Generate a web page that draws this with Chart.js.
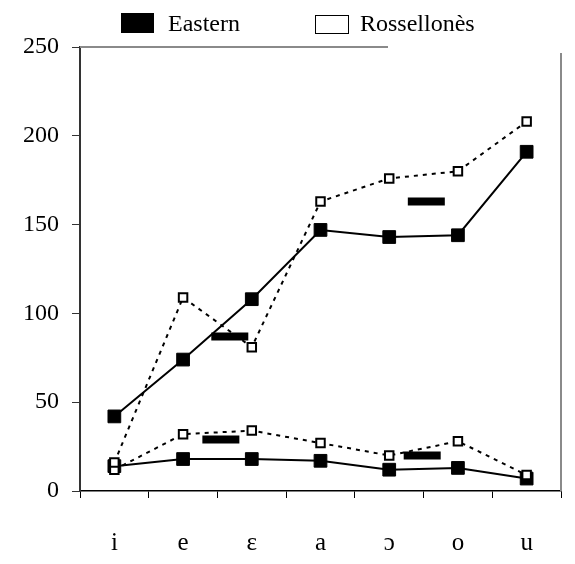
<!DOCTYPE html>
<html>
<head>
<meta charset="utf-8">
<script src="https://cdn.jsdelivr.net/npm/chart.js@4"></script>
<style>
  body { margin: 0; background: #fff; }
  #wrap { position: relative; width: 575px; height: 564px; }
  .lg { position: absolute; font-family: "Liberation Serif", serif; font-size: 24px; color: #000; line-height: 1; }
  .box { position: absolute; box-sizing: border-box; }
</style>
</head>
<body>
<div id="wrap">
  <canvas id="vowelChart" width="575" height="564"></canvas>
  <div class="box" style="left:121px;top:13px;width:33px;height:20px;background:#000;"></div>
  <div class="lg" style="left:168px;top:11px;">Eastern</div>
  <div class="box" style="left:315px;top:15px;width:34px;height:19px;border:1.5px solid #000;background:#fff;"></div>
  <div class="lg" style="left:360px;top:11px;">Rossellonès</div>
</div>
<script>
// vowel categories
const vowels = ['i', 'e', 'ɛ', 'a', 'ɔ', 'o', 'u'];
const yTicks = [0, 50, 100, 150, 200, 250];

// values
const easternUpper = [42, 74, 108, 147, 143, 144, 191];
const easternLower = [14, 18, 18, 17, 12, 13, 7];
const rossUpper = [16, 109, 81, 163, 176, 180, 208];
const rossLower = [12, 32, 34, 27, 20, 28, 9];

// black bars between categories (x as fractional category index)
const barX = [1.68, 1.55, 4.54, 4.48];
const barY = [87, 29, 163, 20];

function initializeChart() {
    const ctx = document.getElementById('vowelChart').getContext('2d');

    const solid = (data) => ({
        data: data,
        borderColor: '#000',
        borderWidth: 2,
        pointStyle: 'rect',
        pointRadius: 9,
        pointBackgroundColor: '#000',
        pointBorderColor: '#000',
        pointBorderWidth: 1,
        tension: 0
    });
    const dashed = (data) => ({
        data: data,
        borderColor: '#000',
        borderWidth: 2,
        borderDash: [4, 5],
        pointStyle: 'rect',
        pointRadius: 6,
        pointBackgroundColor: '#fff',
        pointBorderColor: '#000',
        pointBorderWidth: 2,
        tension: 0
    });

    // grey frame on top and right
    const framePlugin = {
        id: 'frame',
        afterDraw(chart) {
            const a = chart.chartArea;
            const c = chart.ctx;
            c.save();
            c.strokeStyle = '#8a8a8a';
            c.lineWidth = 2;
            c.beginPath();
            c.moveTo(a.left, a.top);
            c.lineTo(388, a.top);
            c.moveTo(a.right, a.top + 6);
            c.lineTo(a.right, a.bottom);
            c.stroke();
            c.restore();
        }
    };

    const noPad = (scale) => { scale.paddingLeft = 0; scale.paddingRight = 0; };

    const config = {
        type: 'line',
        data: {
            labels: vowels,
            datasets: [
                dashed(rossUpper),
                dashed(rossLower),
                solid(easternUpper),
                solid(easternLower),
                {
                    type: 'scatter',
                    xAxisID: 'x2',
                    data: barX.map((x, i) => ({ x: x, y: barY[i] })),
                    pointStyle: 'line',
                    pointRadius: 18.5,
                    pointBorderWidth: 8,
                    pointBorderColor: '#000',
                    pointBackgroundColor: '#000',
                    showLine: false
                }
            ]
        },
        options: {
            responsive: false,
            animation: false,
            events: [],
            // the wide bar markers would otherwise reserve extra room on the right
            layout: { autoPadding: false, padding: { top: 47, right: 14, left: 0, bottom: 0 } },
            plugins: {
                legend: { display: false },
                tooltip: { enabled: false }
            },
            scales: {
                x: {
                    offset: true,
                    afterFit(scale) {
                        scale.height = 73;
                        noPad(scale);
                    },
                    grid: { offset: true, drawOnChartArea: false, drawTicks: true, tickLength: 7, color: '#000' },
                    border: { color: '#000', width: 1.5 },
                    ticks: {
                        color: '#000',
                        padding: 3,
                        font: { family: 'Liberation Serif', size: 25, lineHeight: '84px' }
                    }
                },
                x2: {
                    type: 'linear',
                    display: false,
                    min: -0.5,
                    max: 6.5,
                    ticks: { display: false },
                    afterFit: noPad
                },
                y: {
                    min: 0,
                    max: 250,
                    afterFit(scale) { scale.width = 80; },
                    afterBuildTicks(scale) { scale.ticks = yTicks.map(v => ({ value: v })); },
                    grid: { drawOnChartArea: false, drawTicks: true, tickLength: 8, color: '#333' },
                    border: { color: '#333', width: 2 },
                    ticks: {
                        color: '#000',
                        padding: 13,
                        font: { family: 'Liberation Serif', size: 24 }
                    }
                }
            }
        },
        plugins: [framePlugin]
    };
    new Chart(ctx, config);
}

if (document.readyState === 'loading') {
    document.addEventListener('DOMContentLoaded', initializeChart);
} else {
    initializeChart();
}
</script>
</body>
</html>
